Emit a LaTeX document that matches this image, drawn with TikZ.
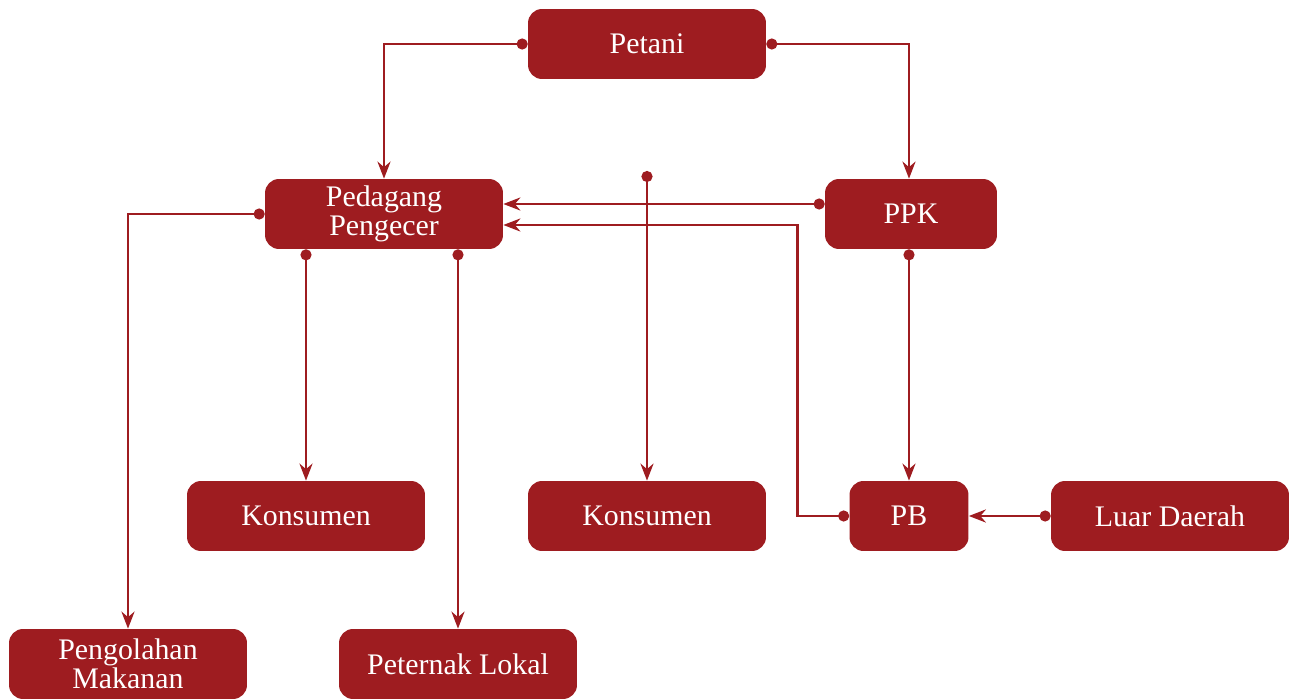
\documentclass[tikz,border=0pt]{standalone}
\usepackage{fontspec}
\setmainfont{Liberation Serif}
\usetikzlibrary{arrows.meta}
\definecolor{merah}{HTML}{9E1C20}

\begin{document}
\begin{tikzpicture}[
        x=0.02cm, y=-0.02cm,
        box/.style={fill=merah, text=white, rounded corners=0.28cm, align=center, minimum width=4.76cm, minimum height=1.4cm, inner sep=0pt, font=\fontsize{17}{16.5}\selectfont},
        link/.style={draw=merah, line width=1.6pt, {Circle[length=0.22cm]}-{Stealth[length=0.34cm, width=0.26cm, inset=0.11cm]}}
    ]
        \useasboundingbox (0,0) rectangle (1289,699);

        \node[box] (petani) at (647,44) {Petani};
        \node[box] (pedagang) at (384,214) {Pedagang\\Pengecer};
        \node[box, minimum width=3.44cm] (ppk) at (911,214) {PPK};
        \node[box] (konsumenA) at (306,516) {Konsumen};
        \node[box] (konsumenB) at (647,516) {Konsumen};
        \node[box, minimum width=2.38cm] (pb) at (909,516) {PB};
        \node[box] (luar) at (1170,516) {Luar Daerah};
        \node[box] (olahan) at (128,664) {Pengolahan\\Makanan};
        \node[box] (peternak) at (458,664) {Peternak Lokal};
        \coordinate (titik) at (647,171);

        \draw[link] (petani.west) -| (pedagang.north);
        \draw[link] (petani.east) -| (pb.north |- ppk.north);
        \draw[link] ([yshift=0.2cm]ppk.west) -- ([yshift=0.2cm]pedagang.east);
        \draw[link] (pb.west) -- ++(-52,0) |- ([yshift=-0.22cm]pedagang.east);
        \draw[link] (titik) -- (konsumenB.north);
        \draw[link] (pb.north |- ppk.south) -- (pb.north);
        \draw[link] (luar.west) -- (pb.east);
        \draw[link] (pedagang.south -| konsumenA.north) -- (konsumenA.north);
        \draw[link] (pedagang.south -| peternak.north) -- (peternak.north);
        \draw[link] (pedagang.west) -| (olahan.north);
    \end{tikzpicture}
\end{document}
